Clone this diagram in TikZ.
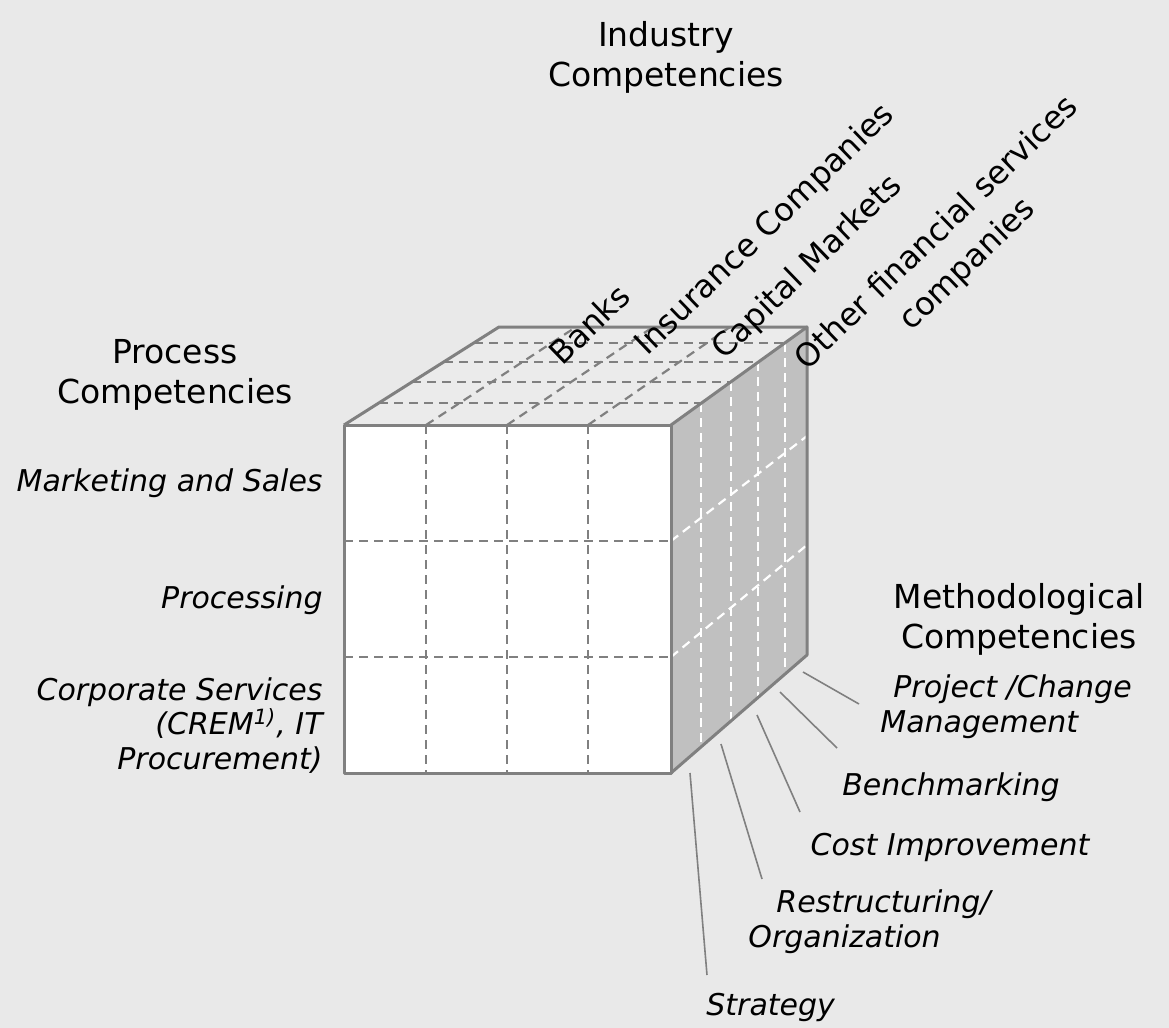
\documentclass[tikz,border=0pt]{standalone}
\usepackage{fontspec}
\setmainfont{DejaVu Sans}
\usetikzlibrary{positioning}
\definecolor{bgcol}{HTML}{E9E9E9}
\definecolor{edgecol}{HTML}{808080}
\definecolor{sidecol}{HTML}{C0C0C0}
\definecolor{topcol}{HTML}{EBEBEB}
\tikzstyle{cubeedge} = [line width=1.5pt, draw=edgecol, line join=round]
\tikzstyle{griddash} = [line width=1.1pt, draw=edgecol, dash pattern=on 4.5pt off 3pt]
\tikzstyle{whitedash} = [line width=1.1pt, draw=white, dash pattern=on 4.5pt off 3pt]
\tikzstyle{connect} = [line width=0.8pt, draw=edgecol]
\tikzstyle{head} = [inner sep=0, align=center, font=\fontsize{16.5}{20}\selectfont]
\tikzstyle{rowlabel} = [inner sep=0, font=\fontsize{15}{17.25}\selectfont\itshape]
\tikzstyle{indlabel} = [inner sep=0, rotate=44, anchor=base west, font=\fontsize{16}{22}\selectfont]

\begin{document}
\begin{tikzpicture}[x=0.5pt,y=-0.5pt]

\useasboundingbox[fill=bgcol] (0,0) rectangle (1169,1028);

% cube corners
\coordinate (ftl) at (344,425);
\coordinate (ftr) at (671,425);
\coordinate (fbr) at (671,773);
\coordinate (fbl) at (344,773);
\coordinate (btl) at (499,327);
\coordinate (btr) at (807,327);
\coordinate (bbr) at (807,655);

\fill[white] (ftl) -- (ftr) -- (fbr) -- (fbl) -- cycle;
\fill[sidecol] (ftr) -- (btr) -- (bbr) -- (fbr) -- cycle;
\fill[topcol] (ftl) -- (btl) -- (btr) -- (ftr) -- cycle;

% front face grid
\foreach \x in {426,507,588}
  \draw [griddash] (\x,425) -- (\x,773);
\foreach \y in {541,657}
  \draw [griddash] (344,\y) -- (671,\y);

% top face grid
\foreach \xa/\xb in {426/576,507/653,588/730}
  \draw [griddash] (\xa,425) -- (\xb,327);
\foreach \xa/\xb/\y in {379/701/403,412/731/382,444/758/362,474/785/343}
  \draw [griddash] (\xa,\y) -- (\xb,\y);

% side face grid
\foreach \x/\ya/\yb in {701/403/747,731/382/721,758/362/698,785/343/674}
  \draw [whitedash] (\x,\ya) -- (\x,\yb);
\draw [whitedash] (671,541) -- (807,436);
\draw [whitedash] (671,657) -- (807,545);

\draw [cubeedge] (ftl) -- (ftr) -- (fbr) -- (fbl) -- cycle;
\draw [cubeedge] (ftr) -- (btr) -- (bbr) -- (fbr);
\draw [cubeedge] (ftl) -- (btl) -- (btr);

% headings
\node (proc) [head, anchor=base] at (175,403) {Process\\Competencies};
\node (ind) [head, anchor=base] at (666,86) {Industry\\Competencies};
\node (meth) [head, anchor=base] at (1019,648) {Methodological\\Competencies};

% process rows
\node (mkt) [rowlabel, anchor=base east] at (323,491) {Marketing and Sales};
\node (prc) [rowlabel, anchor=base east] at (323,608) {Processing};
\node (corp) [rowlabel, anchor=base east, align=right] at (323,769) {Corporate Services\\(CREM\textsuperscript{1)}, IT\\Procurement)};

% industry columns
\node (banks) [indlabel] at (562,367) {Banks};
\node (ins) [indlabel] at (647,357) {Insurance Companies};
\node (cap) [indlabel] at (724,361) {Capital Markets};
\node (oth) [indlabel, align=center] at (838,403) {Other financial services\\companies};

% methodological items
\node (pcm) [rowlabel, anchor=base west, align=left] at (880,732) {\hspace*{6.5pt}Project /Change\\Management};
\node (bench) [rowlabel, anchor=base] at (951,795) {Benchmarking};
\node (cost) [rowlabel, anchor=base] at (950,855) {Cost Improvement};
\node (restr) [rowlabel, anchor=base west, align=left] at (748,947) {\hspace*{14pt}Restructuring/\\Organization};
\node (strat) [rowlabel, anchor=base west] at (706,1015) {Strategy};

\coordinate (l1a) at (803,672);
\coordinate (l1b) at (859,704);
\coordinate (l2a) at (780,692);
\coordinate (l2b) at (837,748);
\coordinate (l3a) at (757,715);
\coordinate (l3b) at (800,812);
\coordinate (l4a) at (721,744);
\coordinate (l4b) at (762,879);
\coordinate (l5a) at (690,773);
\coordinate (l5b) at (707,975);

\draw [connect] (l1a) -- (l1b);
\draw [connect] (l2a) -- (l2b);
\draw [connect] (l3a) -- (l3b);
\draw [connect] (l4a) -- (l4b);
\draw [connect] (l5a) -- (l5b);

\end{tikzpicture}
\end{document}
